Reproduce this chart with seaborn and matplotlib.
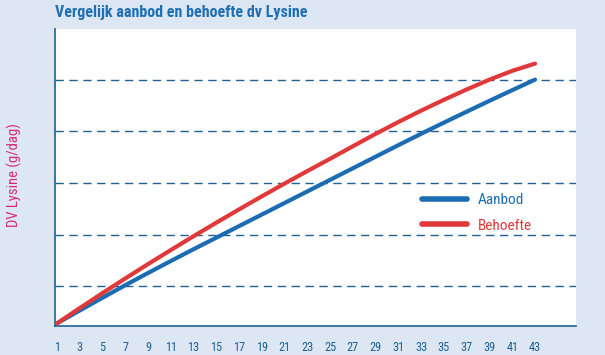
import pandas as pd
import seaborn as sns
import matplotlib
matplotlib.use("Agg")
import matplotlib.pyplot as plt
from matplotlib.lines import Line2D

# weeks (odd weeks, as on the x axis)
weeks = [1, 3, 5, 7, 9, 11, 13, 15, 17, 19, 21, 23, 25, 27, 29, 31, 33, 35, 37, 39, 41, 43]
# arbitrary g/dag scale (gridlines at 5,10,...,25)
aanbod = [1.4, 2.65, 3.88, 5.1, 6.28, 7.44, 8.58, 9.7, 10.82, 11.94, 13.06,
          14.18, 15.3, 16.42, 17.54, 18.66, 19.76, 20.84, 21.9, 22.95, 23.98, 25.0]
behoefte = [1.4, 2.88, 4.33, 5.75, 7.14, 8.5, 9.84, 11.15, 12.44, 13.7, 14.94,
            16.15, 17.34, 18.55, 19.75, 20.9, 22.0, 23.05, 24.05, 25.0, 25.85, 26.55]
series_names = ["Aanbod", "Behoefte"]
grid_values = [5, 10, 15, 20, 25]

title = "Vergelijk aanbod en behoefte dv Lysine"
ylabel = "DV Lysine (g/dag)"

BG = "#dde6f3"
BLUE = "#1b6cb3"
RED = "#e0393a"
AXBLUE = "#1f6190"

df = pd.DataFrame({"week": weeks * 2,
                   "waarde": aanbod + behoefte,
                   "serie": [series_names[0]] * len(weeks) + [series_names[1]] * len(weeks)})

sns.set_style("white")
narrow = ["Liberation Sans Narrow", "Roboto Condensed", "DejaVu Sans"]
plt.rcParams['font.family'] = narrow

fig = plt.figure(figsize=(6.05, 3.55), dpi=100, facecolor=BG)
ax = fig.add_axes([55 / 605, 1 - 326 / 355, (576 - 55) / 605, (326 - 29) / 355])
ax.set_facecolor("white")

for g in grid_values:
    ax.axhline(g, color=AXBLUE, lw=1.0, ls=(0, (6, 4)), zorder=1)

sns.lineplot(data=df, x="week", y="waarde", hue="serie",
             palette={series_names[0]: BLUE, series_names[1]: RED},
             linewidth=3.0, legend=False, ax=ax, zorder=3)

ax.set_xlim(0.83, 46.6)
ax.set_ylim(1.15, 29.9)
ax.set_xticks(weeks)
ax.set_xticklabels([str(w) for w in weeks], color=AXBLUE, fontsize=8.8)
ax.set_yticks([])
ax.tick_params(axis="x", length=0, pad=10.5)
ax.set_xlabel("")
ax.set_ylabel("")

for s in ["top", "right"]:
    ax.spines[s].set_visible(False)
for s in ["left", "bottom"]:
    ax.spines[s].set_color(AXBLUE)
    ax.spines[s].set_linewidth(1.2)

fig.text(55 / 605, 1 - 13 / 355, title, color="#1f6fb4", fontsize=11.5,
         fontweight="bold", va="center", ha="left", family=narrow)
fig.text(14 / 605, 1 - 175 / 355, ylabel, color="#d62a78", fontsize=10.5,
         rotation=90, va="center", ha="center", family=narrow)

handles = [Line2D([0], [0], color=BLUE, lw=4), Line2D([0], [0], color=RED, lw=4)]
leg = ax.legend(handles, series_names, loc="center left",
                bbox_to_anchor=((408 - 55) / 521, (326 - 213) / 297),
                frameon=False, handlelength=2.95, handletextpad=0.72,
                labelspacing=0.75, fontsize=11)
leg.get_texts()[0].set_color(BLUE)
leg.get_texts()[1].set_color(RED)

fig.savefig("out.png", dpi=100, facecolor=BG)
